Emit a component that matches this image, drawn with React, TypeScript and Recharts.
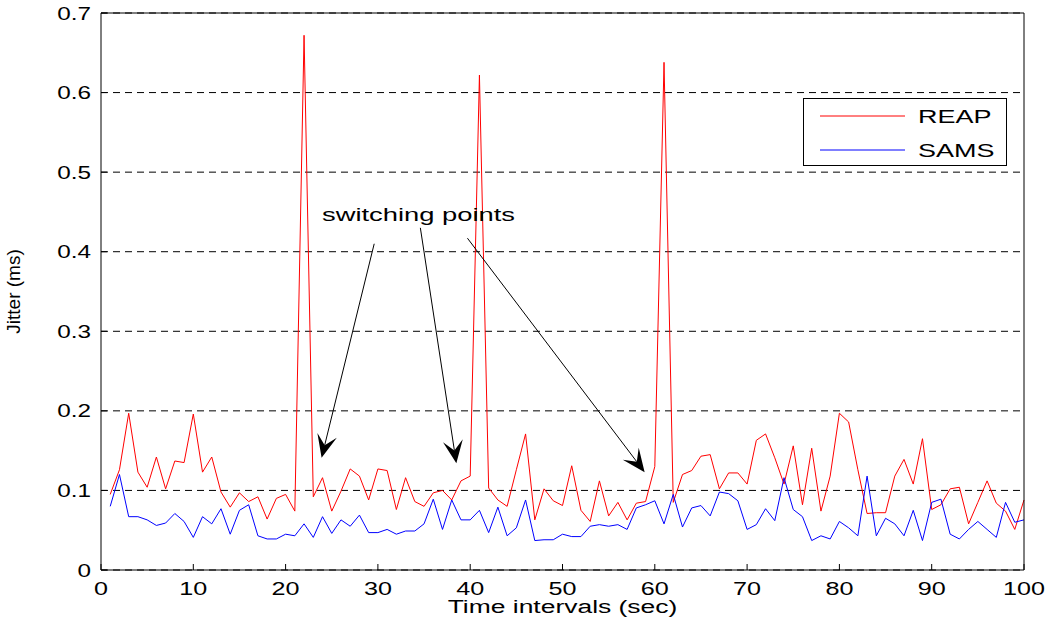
import {
  LineChart,
  Line,
  XAxis,
  YAxis,
  CartesianGrid,
  Legend,
  ReferenceLine,
  ReferenceDot,
} from 'recharts';

// Jitter (ms) per 1-second time interval, t = 1..100
const REAP = [
  0.095, 0.126, 0.197, 0.123, 0.104, 0.142, 0.102, 0.137, 0.135, 0.196,
  0.123, 0.142, 0.098, 0.079, 0.097, 0.086, 0.092, 0.064, 0.090, 0.095,
  0.074, 0.672, 0.092, 0.116, 0.074, 0.099, 0.127, 0.118, 0.088, 0.127,
  0.125, 0.076, 0.116, 0.086, 0.080, 0.097, 0.100, 0.088, 0.112, 0.118,
  0.622, 0.103, 0.088, 0.080, 0.126, 0.171, 0.063, 0.102, 0.087, 0.081,
  0.131, 0.075, 0.061, 0.112, 0.068, 0.085, 0.063, 0.084, 0.086, 0.130,
  0.638, 0.085, 0.120, 0.125, 0.143, 0.145, 0.102, 0.122, 0.122, 0.108,
  0.163, 0.171, 0.141, 0.108, 0.156, 0.082, 0.153, 0.074, 0.118, 0.197,
  0.186, 0.126, 0.071, 0.072, 0.072, 0.118, 0.139, 0.108, 0.165, 0.076,
  0.082, 0.102, 0.104, 0.058, 0.085, 0.112, 0.084, 0.074, 0.051, 0.088,
];

const SAMS = [
  0.080, 0.120, 0.067, 0.067, 0.063, 0.056, 0.059, 0.071, 0.061, 0.041,
  0.067, 0.058, 0.077, 0.045, 0.075, 0.082, 0.043, 0.039, 0.039, 0.045,
  0.043, 0.058, 0.041, 0.067, 0.046, 0.063, 0.055, 0.069, 0.047, 0.047,
  0.051, 0.045, 0.049, 0.049, 0.058, 0.089, 0.051, 0.088, 0.063, 0.063,
  0.075, 0.047, 0.079, 0.043, 0.053, 0.088, 0.037, 0.038, 0.038, 0.045,
  0.042, 0.042, 0.055, 0.057, 0.055, 0.057, 0.051, 0.078, 0.082, 0.087,
  0.058, 0.095, 0.054, 0.078, 0.081, 0.068, 0.098, 0.096, 0.087, 0.051,
  0.057, 0.077, 0.062, 0.116, 0.076, 0.067, 0.037, 0.043, 0.039, 0.061,
  0.053, 0.043, 0.118, 0.043, 0.065, 0.058, 0.043, 0.075, 0.037, 0.085,
  0.089, 0.045, 0.039, 0.051, 0.061, 0.051, 0.041, 0.085, 0.060, 0.063,
];

const X_TICKS = [0, 10, 20, 30, 40, 50, 60, 70, 80, 90, 100];
const Y_TICKS = [0, 0.1, 0.2, 0.3, 0.4, 0.5, 0.6, 0.7];

// annotation: text anchor and arrows (start -> tip) in data units
const NOTE_TEXT = 'switching points';
const NOTE_POS = { x: 34.4, y: 0.438 };
const ARROWS = [
  [{ x: 29.6, y: 0.41 }, { x: 23.9, y: 0.141 }],
  [{ x: 34.6, y: 0.43 }, { x: 38.5, y: 0.134 }],
  [{ x: 39.7, y: 0.417 }, { x: 58.9, y: 0.123 }],
];

const data = REAP.map((v, i) => ({ t: i + 1, reap: v, sams: SAMS[i] }));

const FONT = '"Liberation Sans", Arial, Helvetica, sans-serif';

// the original figure is stretched horizontally, so text is too
function XTick({ x, y, payload }: any) {
  return (
    <text transform={`translate(${x} ${y + 25}) scale(1.4 1)`} textAnchor="middle" fontSize={18} fill="#000">
      {String(payload.value)}
    </text>
  );
}

function YTick({ x, y, payload }: any) {
  return (
    <text transform={`translate(${x - 10} ${y + 6.5}) scale(1.35 1)`} textAnchor="end" fontSize={18} fill="#000">
      {String(payload.value)}
    </text>
  );
}

function XLabel({ viewBox }: any) {
  const { x, y, width } = viewBox;
  return (
    <text transform={`translate(${x + width / 2} ${y + 43}) scale(1.47 1)`} textAnchor="middle" fontSize={18} fill="#000">
      Time intervals (sec)
    </text>
  );
}

function YLabel({ viewBox }: any) {
  const { y, height } = viewBox;
  return (
    <text transform={`translate(20 ${y + height / 2}) rotate(-90)`} textAnchor="middle" fontSize={19} fill="#000">
      Jitter (ms)
    </text>
  );
}

function arrowShape(p: any) {
  const { x1, y1, x2, y2 } = p;
  const a = Math.atan2(y2 - y1, x2 - x1);
  const ux = Math.cos(a);
  const uy = Math.sin(a);
  const pt = (back: number, side: number) =>
    `${x2 - back * ux - side * uy},${y2 - back * uy + side * ux}`;
  const L = 23;
  const W = 10;
  const N = 13;
  return (
    <g>
      <line x1={x1} y1={y1} x2={x2 - N * ux} y2={y2 - N * uy} stroke="#000" strokeWidth={1} />
      <polygon points={[pt(0, 0), pt(L, W), pt(N, 0), pt(L, -W)].join(' ')} fill="#000" />
    </g>
  );
}

function noteShape(p: any) {
  return (
    <text transform={`translate(${p.cx} ${p.cy}) scale(1.52 1)`} textAnchor="middle" fontSize={18} fill="#000">
      {NOTE_TEXT}
    </text>
  );
}

function LegendBox() {
  return (
    <div style={{ width: 204, height: 68, border: '1px solid #000', background: '#fff', boxSizing: 'border-box' }}>
      <svg width={202} height={66} style={{ display: 'block', fontFamily: FONT }}>
        <line x1={16} y1={17} x2={101} y2={17} stroke="#ff0000" strokeWidth={1} />
        <line x1={16} y1={51} x2={101} y2={51} stroke="#0000ff" strokeWidth={1} />
        <text transform="translate(114 23.5) scale(1.5 1)" fontSize={18} fill="#000">REAP</text>
        <text transform="translate(114 57.5) scale(1.5 1)" fontSize={18} fill="#000">SAMS</text>
      </svg>
    </div>
  );
}

export default function App() {
  return (
    <div style={{ position: 'absolute', left: 0, top: 0, width: 1051, height: 628, background: '#fff', fontFamily: FONT }}>
      <LineChart width={1051} height={628} data={data} margin={{ top: 12, right: 26, bottom: 0, left: 0 }}>
        <CartesianGrid vertical={false} stroke="#000" strokeDasharray="7 5" />
        <XAxis
          dataKey="t"
          type="number"
          domain={[0, 100]}
          ticks={X_TICKS}
          height={58}
          tickSize={-6}
          tickMargin={6}
          tick={<XTick />}
          axisLine={{ stroke: '#000' }}
          tickLine={{ stroke: '#000' }}
          label={<XLabel />}
        />
        <XAxis
          xAxisId="top"
          orientation="top"
          dataKey="t"
          type="number"
          domain={[0, 100]}
          ticks={X_TICKS}
          height={1}
          tickSize={-6}
          tick={false}
          axisLine={{ stroke: '#000' }}
          tickLine={{ stroke: '#000' }}
        />
        <YAxis
          type="number"
          domain={[0, 0.7]}
          ticks={Y_TICKS}
          width={101}
          tickSize={-6}
          tickMargin={6}
          tick={<YTick />}
          axisLine={{ stroke: '#000' }}
          tickLine={{ stroke: '#000' }}
          label={<YLabel />}
        />
        <YAxis
          yAxisId="right"
          orientation="right"
          type="number"
          domain={[0, 0.7]}
          ticks={Y_TICKS}
          width={1}
          tickSize={-6}
          tick={false}
          axisLine={{ stroke: '#000' }}
          tickLine={{ stroke: '#000' }}
        />
        <Line dataKey="reap" name="REAP" stroke="#ff0000" strokeWidth={1} dot={false} isAnimationActive={false} />
        <Line dataKey="sams" name="SAMS" stroke="#0000ff" strokeWidth={1} dot={false} isAnimationActive={false} />
        {ARROWS.map((seg, i) => (
          <ReferenceLine key={i} segment={seg} shape={arrowShape} />
        ))}
        <ReferenceDot x={NOTE_POS.x} y={NOTE_POS.y} r={0} shape={noteShape} />
        <Legend
          layout="horizontal"
          verticalAlign="middle"
          align="center"
          content={() => <LegendBox />}
          wrapperStyle={{ position: 'absolute', left: 803, top: 98, width: 204, height: 68 }}
        />
      </LineChart>
    </div>
  );
}
